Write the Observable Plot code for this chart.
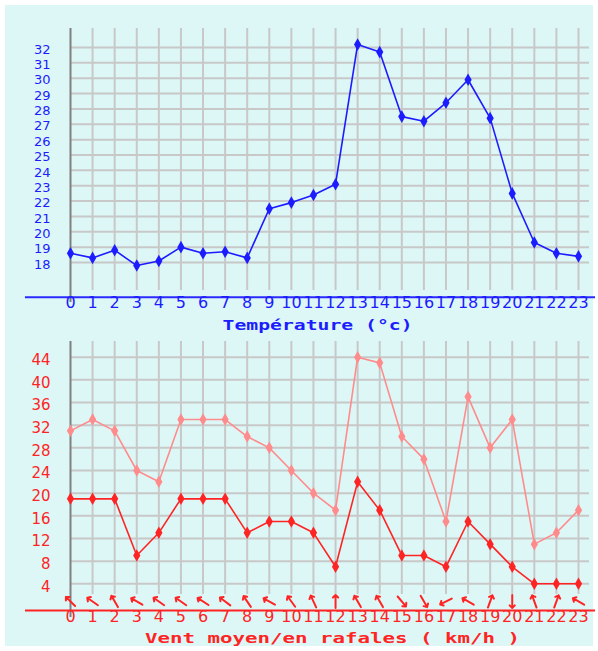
<!DOCTYPE html>
<html>
<head>
<meta charset="utf-8">
<script src="https://cdn.jsdelivr.net/npm/d3@7"></script>
<script src="https://cdn.jsdelivr.net/npm/@observablehq/plot@0.6"></script>
<style>
  html, body { margin: 0; padding: 0; background: #ffffff; }
  #page { position: relative; width: 598px; height: 651px; overflow: hidden; }
  #panel { position: absolute; left: 5px; top: 5px; width: 588px; height: 641px; background: #ddf7f7; }
  #topChart, #bottomChart { position: absolute; left: 0; }
  #topChart { top: 0; }
  #bottomChart { top: 335px; }
</style>
</head>
<body>
<div id="page"><div id="panel"></div><div id="topChart"></div><div id="bottomChart"></div></div>
<script>
const hours = [0,1,2,3,4,5,6,7,8,9,10,11,12,13,14,15,16,17,18,19,20,21,22,23];
const temperature = [18.6,18.3,18.8,17.8,18.1,19.0,18.6,18.7,18.3,21.5,21.9,22.4,23.1,32.2,31.7,27.5,27.2,28.4,29.9,27.4,22.5,19.3,18.6,18.4];
const gusts = [31,33,31,24,22,33,33,33,30,28,24,20,17,44,43,30,26,15,37,28,33,11,13,17];
const meanWind = [19,19,19,9,13,19,19,19,13,15,15,13,7,22,17,9,9,7,15,11,7,4,4,4];
const windDir = [315,305,330,300,305,305,303,307,326,299,324,335,0,330,330,140,150,243,300,20,180,340,20,300];
const tempTicks = [18,19,20,21,22,23,24,25,26,27,28,29,30,31,32];
const windTicks = [4,8,12,16,20,24,28,32,36,40,44];
const tempTitle = "Température (°c)";
const windTitle = "Vent moyen/en rafales ( km/h )";

const tempData = hours.map((h, i) => ({hour: h, temp: temperature[i]}));
const windData = hours.map((h, i) => ({hour: h, gust: gusts[i], mean: meanWind[i], dir: windDir[i]}));

const GRID = "#c8c8c8";
const BLUE = "#1c1cff";
const RED = "#ff2424";
const PINK = "#ff8c8c";
const tickFont = "DejaVu Sans, Verdana, sans-serif";
const titleFont = "DejaVu Sans Mono, monospace";

const topPlot = Plot.plot({
  width: 598, height: 335, margin: 0,
  style: {background: "transparent", overflow: "visible"},
  x: {domain: [0, 23], range: [70, 578], axis: null},
  y: {domain: [18, 32], range: [262, 47], axis: null},
  marks: [
    Plot.ruleY(tempTicks, {y: d => d, x1: 0, x2: 23.5, stroke: GRID, strokeWidth: 2}),
    Plot.ruleX(hours.slice(1), {x: d => d, y1: 33.24, y2: 16.18, stroke: GRID, strokeWidth: 2}),
    Plot.ruleX([0], {x: d => d, y1: 33.24, y2: 15.4, stroke: "#808080", strokeWidth: 2}),
    Plot.ruleY([15.73], {y: d => d, x1: -2.04, x2: 23.77, stroke: "#2a2aff", strokeWidth: 2}),
    Plot.line(tempData, {x: "hour", y: "temp", stroke: BLUE, strokeWidth: 1.6}),
    Plot.dot(tempData, {x: "hour", y: "temp", symbol: "diamond", r: 3.8, fill: BLUE}),
    Plot.text(tempTicks, {x: 0, y: d => d, text: d => String(d), dx: -20, dy: 2, textAnchor: "end", fill: BLUE, fontSize: 13, fontFamily: tickFont}),
    Plot.text(hours, {x: d => d, frameAnchor: "bottom", dy: -27.5, text: d => String(d), fill: BLUE, fontSize: 16, fontFamily: tickFont}),
    Plot.text([tempTitle], {frameAnchor: "bottom", dx: 18, dy: -6, text: d => d, fill: BLUE, fontSize: 14, fontWeight: "bold", fontFamily: titleFont})
  ]
});

const bottomPlot = Plot.plot({
  width: 598, height: 316, margin: 0,
  style: {background: "transparent", overflow: "visible"},
  x: {domain: [0, 23], range: [70, 578], axis: null},
  y: {domain: [4, 44], range: [248.3, 21.7], axis: null},
  marks: [
    Plot.ruleY(windTicks, {y: d => d, x1: 0, x2: 23.5, stroke: GRID, strokeWidth: 2}),
    Plot.ruleX(hours.slice(1), {x: d => d, y1: 46.77, y2: 2.11, stroke: GRID, strokeWidth: 2}),
    Plot.ruleX([0], {x: d => d, y1: 46.77, y2: -1.95, stroke: "#808080", strokeWidth: 2}),
    Plot.ruleY([-0.71], {y: d => d, x1: -2.04, x2: 23.77, stroke: RED, strokeWidth: 2}),
    Plot.line(windData, {x: "hour", y: "gust", stroke: PINK, strokeWidth: 1.6}),
    Plot.dot(windData, {x: "hour", y: "gust", symbol: "diamond", r: 3.8, fill: PINK}),
    Plot.line(windData, {x: "hour", y: "mean", stroke: RED, strokeWidth: 1.6}),
    Plot.dot(windData, {x: "hour", y: "mean", symbol: "diamond", r: 3.8, fill: RED}),
    Plot.vector(windData, {x: "hour", y: 0.88, rotate: "dir", length: 13, anchor: "middle", stroke: RED, strokeWidth: 2}),
    Plot.text(windTicks, {x: 0, y: d => d, text: d => String(d), dx: -20, dy: 3, textAnchor: "end", fill: RED, fontSize: 15, fontFamily: tickFont}),
    Plot.text(hours, {x: d => d, frameAnchor: "bottom", dy: -30, text: d => String(d), fill: RED, fontSize: 16, fontFamily: tickFont}),
    Plot.text([windTitle], {frameAnchor: "bottom", dx: 33, dy: -9, text: d => d, fill: RED, fontSize: 14, fontWeight: "bold", fontFamily: titleFont})
  ]
});

function stretch(svg, label, len) {
  svg.querySelectorAll("text").forEach(t => {
    if (t.textContent === label) {
      t.setAttribute("textLength", len);
      t.setAttribute("lengthAdjust", "spacingAndGlyphs");
    }
  });
}
stretch(topPlot, tempTitle, 190);
stretch(bottomPlot, windTitle, 375);

document.getElementById("topChart").appendChild(topPlot);
document.getElementById("bottomChart").appendChild(bottomPlot);
</script>
</body>
</html>
